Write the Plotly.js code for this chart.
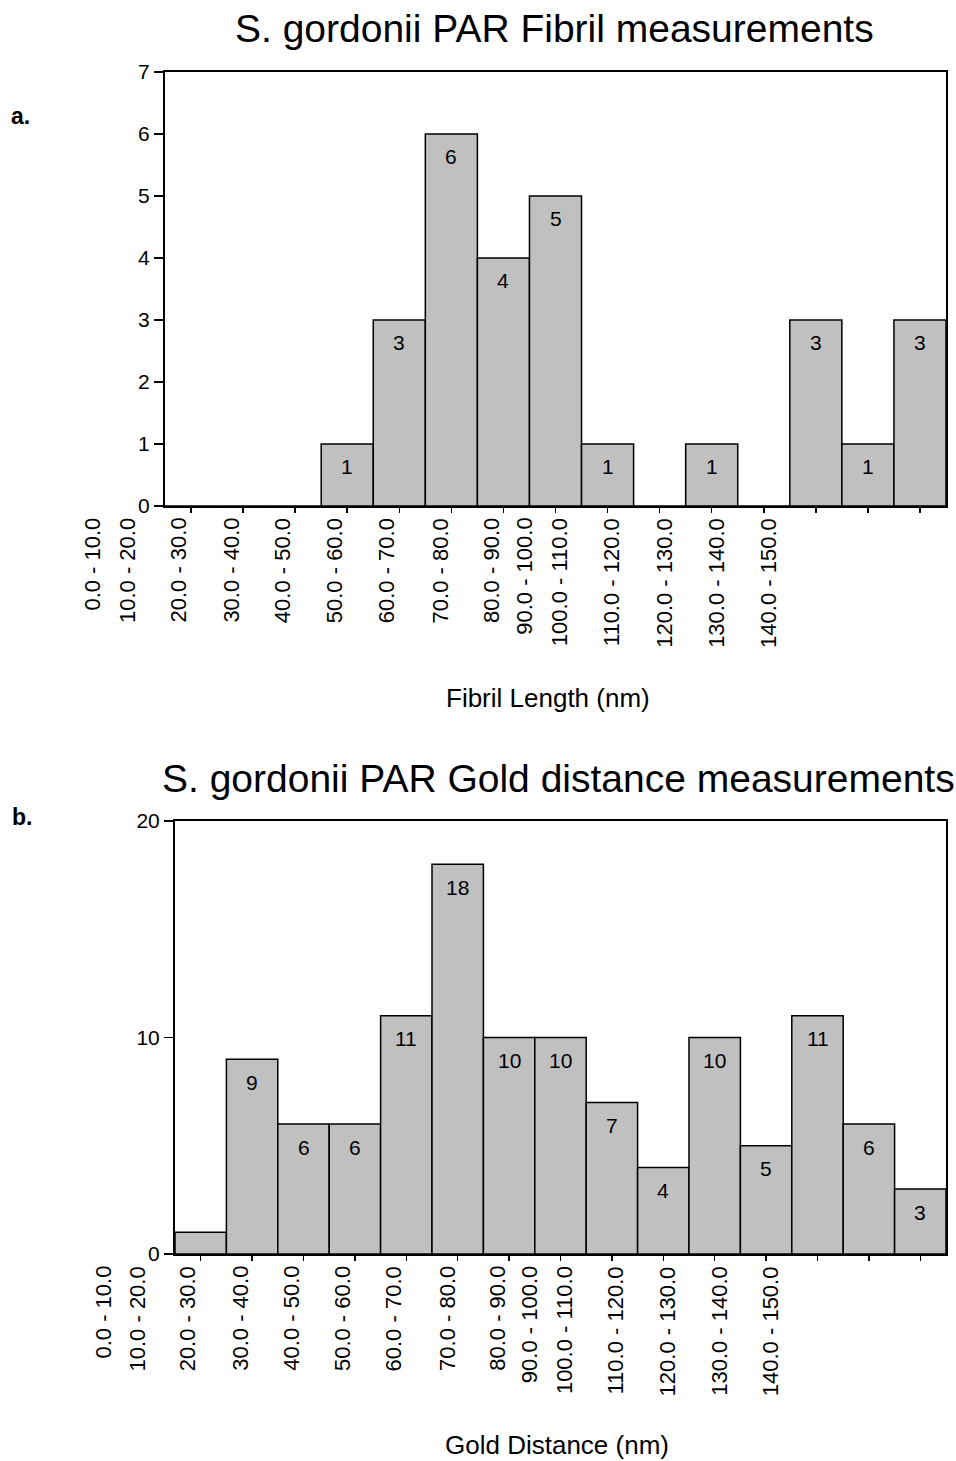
<!DOCTYPE html>
<html>
<head>
<meta charset="utf-8">
<script src="https://cdn.plot.ly/plotly-3.0.1.min.js"></script>
<style>html,body{margin:0;padding:0;background:#fff;}#chart{width:956px;height:1461px;}</style>
</head>
<body>
<div id="chart"></div>
<script>
// ---- Data ----
const binLabels = ["0.0 - 10.0","10.0 - 20.0","20.0 - 30.0","30.0 - 40.0","40.0 - 50.0","50.0 - 60.0","60.0 - 70.0","70.0 - 80.0","80.0 - 90.0","90.0 - 100.0","100.0 - 110.0","110.0 - 120.0","120.0 - 130.0","130.0 - 140.0","140.0 - 150.0"];
const fibrilCounts = [0,0,0,1,3,6,4,5,1,0,1,0,3,1,3];
const goldCounts   = [1,9,6,6,11,18,10,10,7,4,10,5,11,6,3];
const titleA = "S. gordonii PAR Fibril measurements";
const titleB = "S. gordonii PAR Gold distance measurements";
const xTitleA = "Fibril Length (nm)";
const xTitleB = "Gold Distance (nm)";

// ---- Layout constants (label placement quirk of the original, in bin units) ----
const labelOffsets = [-1.9,-1.22,-0.25,0.77,1.76,2.76,3.76,4.8,5.77,6.4,7.07,8.07,9.08,10.08,11.08];

const W = 956, H = 1461;
const FONT = "Liberation Sans, Arial, Helvetica, sans-serif";
const domA = {x:[165/W, 946/W], y:[1-506/H, 1-72/H], ymax:7, dtick:1};
const domB = {x:[175/W, 946/W], y:[1-1254/H, 1-821/H], ymax:20, dtick:10};

const nBins = binLabels.length;
const idx = binLabels.map((_, i) => i);

function barTrace(vals, xa, ya){
  return {
    type:'bar', x: idx, y: vals, xaxis: xa, yaxis: ya, width: 1,
    marker:{color:'#c0c0c0', line:{color:'#000', width:1.5}},
    hoverinfo:'x+y', showlegend:false
  };
}

function xAxis(dom, anchor){
  return {
    domain: dom.x, anchor: anchor, range:[-0.5, nBins-0.5],
    tickvals: idx, ticktext: idx.map(()=>''), ticks:'outside', ticklen:5, tickwidth:1.5, tickcolor:'#000',
    showline:true, linecolor:'#000', linewidth:2, mirror:true,
    showgrid:false, zeroline:false, fixedrange:true
  };
}
function yAxis(dom, anchor){
  return {
    domain: dom.y, anchor: anchor, range:[0, dom.ymax], dtick: dom.dtick, tick0:0,
    ticks:'outside', ticklen:9, tickwidth:1.5, tickcolor:'#000',
    tickfont:{family:FONT, size:21, color:'#000'},
    showline:true, linecolor:'#000', linewidth:2, mirror:true,
    showgrid:false, zeroline:false, fixedrange:true
  };
}

const annotations = [];

function addPanel(vals, dom, xref, yref){
  const plotH = (dom.y[1]-dom.y[0])*H;
  // value labels inside bars
  vals.forEach((v,i)=>{
    if (v/dom.ymax*plotH > 40){
      annotations.push({x:i, y:v, xref:xref, yref:yref, text:String(v), showarrow:false,
        yanchor:'middle', xanchor:'center', yshift:-23,
        font:{family:FONT, size:21, color:'#000'}});
    }
  });
  // rotated category labels (placed via paper coords from bin-unit offsets)
  binLabels.forEach((lab,i)=>{
    const u = labelOffsets[i];
    const px = dom.x[0] + (u+0.5)/nBins*(dom.x[1]-dom.x[0]);
    annotations.push({x:px, y:dom.y[0], xref:'paper', yref:'paper', text:lab, showarrow:false,
      textangle:-90, xanchor:'center', yanchor:'top', yshift:-10,
      font:{family:FONT, size:22, color:'#000'}});
  });
}
addPanel(fibrilCounts, domA, 'x', 'y');
addPanel(goldCounts, domB, 'x2', 'y2');

// titles and labels
function txt(text, x, y, size, opts){
  annotations.push(Object.assign({text:text, x:x, y:y, xref:'paper', yref:'paper', showarrow:false,
    xanchor:'center', yanchor:'middle', font:{family:FONT, size:size, color:'#000'}}, opts||{}));
}
txt(titleA, 554/W, 1-29/H, 39);
txt(titleB, 558/W, 1-778/H, 39);
txt(xTitleA, 548/W, 1-698/H, 26);
txt(xTitleB, 557/W, 1-1445/H, 26);
txt("<b>a.</b>", 9/W, 1-116/H, 23, {xanchor:'left'});
txt("<b>b.</b>", 10/W, 1-817/H, 23, {xanchor:'left'});

const layout = {
  width: W, height: H,
  margin:{l:0, r:0, t:0, b:0},
  paper_bgcolor:'#fff', plot_bgcolor:'#fff',
  bargap:0,
  showlegend:false,
  font:{family:FONT, color:'#000'},
  xaxis: xAxis(domA, 'y'),
  yaxis: yAxis(domA, 'x'),
  xaxis2: xAxis(domB, 'y2'),
  yaxis2: yAxis(domB, 'x2'),
  annotations: annotations
};

Plotly.newPlot('chart', [barTrace(fibrilCounts,'x','y'), barTrace(goldCounts,'x2','y2')], layout, {displayModeBar:false, staticPlot:true});
</script>
</body>
</html>
